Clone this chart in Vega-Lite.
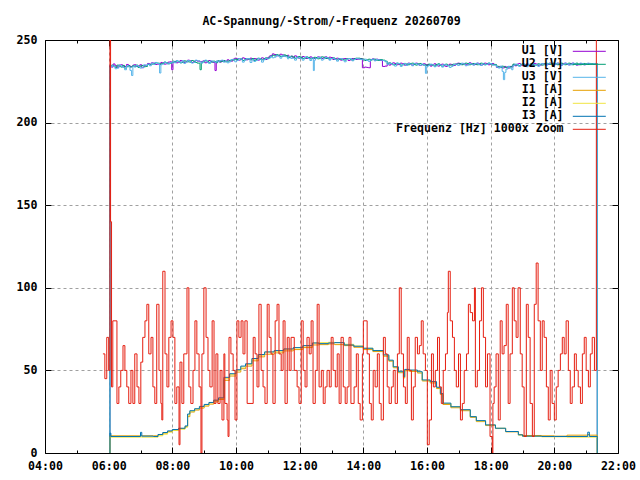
{
  "$schema": "https://vega.github.io/schema/vega-lite/v6.json",
  "width": 573,
  "height": 413,
  "autosize": {"type": "none"},
  "padding": {"left": 45, "top": 40, "right": 22, "bottom": 27},
  "background": "white",
  "title": {
    "text": "AC-Spannung/-Strom/-Frequenz 20260709",
    "font": "DejaVu Sans Mono",
    "fontSize": 11.6,
    "fontWeight": "bold",
    "color": "black",
    "offset": 6
  },
  "datasets": {
    "u": [
      {"t": 6.03, "U1": 0, "U2": 0, "U3": 0},
      {"t": 6.04, "U1": 234.5, "U2": 234.0, "U3": 233.5},
      {"t": 6.09, "U1": 233.6, "U2": 234.8, "U3": 234.6},
      {"t": 6.14, "U1": 235.5, "U2": 234.2, "U3": 234.0},
      {"t": 6.20, "U1": 234.4, "U2": 233.4, "U3": 232.6},
      {"t": 6.26, "U1": 233.5, "U2": 234.8, "U3": 233.0},
      {"t": 6.32, "U1": 234.8, "U2": 234.2, "U3": 234.8},
      {"t": 6.38, "U1": 235.0, "U2": 233.6, "U3": 234.2},
      {"t": 6.44, "U1": 234.2, "U2": 234.6, "U3": 233.4},
      {"t": 6.50, "U1": 234.0, "U2": 233.0, "U3": 232.0},
      {"t": 6.56, "U1": 235.2, "U2": 233.8, "U3": 234.4},
      {"t": 6.62, "U1": 234.6, "U2": 234.4, "U3": 233.8},
      {"t": 6.67, "U1": 233.8, "U2": 233.6, "U3": 231.6},
      {"t": 6.72, "U1": 234.0, "U2": 233.8, "U3": 228.5},
      {"t": 6.76, "U1": 234.8, "U2": 234.6, "U3": 234.2},
      {"t": 6.80, "U1": 235.0, "U2": 234.0, "U3": 233.6},
      {"t": 6.86, "U1": 234.0, "U2": 234.8, "U3": 234.6},
      {"t": 6.92, "U1": 234.2, "U2": 233.4, "U3": 234.0},
      {"t": 6.98, "U1": 235.0, "U2": 234.2, "U3": 233.0},
      {"t": 7.04, "U1": 233.2, "U2": 234.6, "U3": 233.4},
      {"t": 7.10, "U1": 234.4, "U2": 233.8, "U3": 235.0},
      {"t": 7.16, "U1": 234.8, "U2": 234.0, "U3": 234.6},
      {"t": 7.22, "U1": 235.8, "U2": 235.2, "U3": 235.4},
      {"t": 7.28, "U1": 235.4, "U2": 235.0, "U3": 234.4},
      {"t": 7.34, "U1": 236.2, "U2": 235.4, "U3": 236.0},
      {"t": 7.40, "U1": 236.0, "U2": 235.6, "U3": 235.2},
      {"t": 7.46, "U1": 235.2, "U2": 236.2, "U3": 236.4},
      {"t": 7.52, "U1": 235.4, "U2": 236.0, "U3": 235.8},
      {"t": 7.60, "U1": 235.8, "U2": 235.2, "U3": 230.0},
      {"t": 7.64, "U1": 236.4, "U2": 235.6, "U3": 235.0},
      {"t": 7.68, "U1": 236.2, "U2": 235.8, "U3": 235.4},
      {"t": 7.74, "U1": 235.4, "U2": 236.6, "U3": 236.6},
      {"t": 7.80, "U1": 235.6, "U2": 236.2, "U3": 236.0},
      {"t": 7.86, "U1": 236.6, "U2": 235.6, "U3": 235.6},
      {"t": 7.92, "U1": 236.8, "U2": 236.0, "U3": 236.4},
      {"t": 7.98, "U1": 232.0, "U2": 236.4, "U3": 236.0},
      {"t": 8.02, "U1": 236.6, "U2": 237.2, "U3": 237.0},
      {"t": 8.06, "U1": 237.0, "U2": 236.6, "U3": 236.2},
      {"t": 8.12, "U1": 236.2, "U2": 237.4, "U3": 237.6},
      {"t": 8.18, "U1": 236.6, "U2": 237.0, "U3": 236.8},
      {"t": 8.24, "U1": 237.6, "U2": 236.2, "U3": 236.2},
      {"t": 8.30, "U1": 237.2, "U2": 236.4, "U3": 237.4},
      {"t": 8.36, "U1": 236.4, "U2": 237.4, "U3": 235.8},
      {"t": 8.42, "U1": 236.8, "U2": 237.2, "U3": 236.6},
      {"t": 8.48, "U1": 237.8, "U2": 236.8, "U3": 237.6},
      {"t": 8.54, "U1": 237.4, "U2": 236.6, "U3": 237.0},
      {"t": 8.60, "U1": 236.4, "U2": 237.6, "U3": 236.0},
      {"t": 8.66, "U1": 236.8, "U2": 237.2, "U3": 236.4},
      {"t": 8.72, "U1": 237.6, "U2": 236.4, "U3": 237.8},
      {"t": 8.78, "U1": 237.2, "U2": 236.0, "U3": 237.4},
      {"t": 8.87, "U1": 236.8, "U2": 232.0, "U3": 236.8},
      {"t": 8.91, "U1": 237.0, "U2": 236.4, "U3": 236.0},
      {"t": 8.96, "U1": 237.4, "U2": 236.8, "U3": 237.2},
      {"t": 9.02, "U1": 236.2, "U2": 237.6, "U3": 237.8},
      {"t": 9.08, "U1": 236.6, "U2": 237.2, "U3": 236.6},
      {"t": 9.14, "U1": 237.6, "U2": 236.2, "U3": 235.8},
      {"t": 9.20, "U1": 237.0, "U2": 236.6, "U3": 237.4},
      {"t": 9.27, "U1": 236.4, "U2": 237.2, "U3": 236.8},
      {"t": 9.34, "U1": 231.5, "U2": 236.8, "U3": 236.4},
      {"t": 9.38, "U1": 236.8, "U2": 236.2, "U3": 237.4},
      {"t": 9.42, "U1": 237.2, "U2": 237.4, "U3": 236.8},
      {"t": 9.48, "U1": 236.6, "U2": 236.8, "U3": 237.6},
      {"t": 9.54, "U1": 237.6, "U2": 237.0, "U3": 237.8},
      {"t": 9.60, "U1": 237.0, "U2": 237.6, "U3": 236.6},
      {"t": 9.66, "U1": 237.2, "U2": 236.8, "U3": 237.2},
      {"t": 9.72, "U1": 238.0, "U2": 237.2, "U3": 236.2},
      {"t": 9.78, "U1": 237.6, "U2": 237.4, "U3": 236.8},
      {"t": 9.84, "U1": 237.2, "U2": 238.0, "U3": 238.2},
      {"t": 9.90, "U1": 238.4, "U2": 237.8, "U3": 238.0},
      {"t": 9.96, "U1": 239.0, "U2": 238.4, "U3": 236.8},
      {"t": 10.02, "U1": 238.6, "U2": 238.2, "U3": 237.6},
      {"t": 10.08, "U1": 237.8, "U2": 238.8, "U3": 238.8},
      {"t": 10.14, "U1": 238.2, "U2": 238.6, "U3": 238.4},
      {"t": 10.20, "U1": 239.2, "U2": 237.6, "U3": 236.6},
      {"t": 10.26, "U1": 238.8, "U2": 238.0, "U3": 237.8},
      {"t": 10.32, "U1": 238.0, "U2": 238.8, "U3": 238.8},
      {"t": 10.38, "U1": 238.4, "U2": 238.4, "U3": 238.6},
      {"t": 10.44, "U1": 239.0, "U2": 238.0, "U3": 236.4},
      {"t": 10.50, "U1": 238.0, "U2": 238.8, "U3": 238.2},
      {"t": 10.56, "U1": 238.8, "U2": 237.6, "U3": 237.0},
      {"t": 10.62, "U1": 238.6, "U2": 238.2, "U3": 237.6},
      {"t": 10.68, "U1": 237.8, "U2": 239.0, "U3": 238.8},
      {"t": 10.74, "U1": 238.2, "U2": 238.6, "U3": 238.4},
      {"t": 10.80, "U1": 239.2, "U2": 238.0, "U3": 236.6},
      {"t": 10.86, "U1": 238.8, "U2": 238.4, "U3": 238.0},
      {"t": 10.92, "U1": 238.2, "U2": 239.2, "U3": 239.0},
      {"t": 10.98, "U1": 239.2, "U2": 238.8, "U3": 238.6},
      {"t": 11.04, "U1": 240.2, "U2": 239.6, "U3": 239.0},
      {"t": 11.08, "U1": 240.6, "U2": 239.8, "U3": 240.2},
      {"t": 11.14, "U1": 241.6, "U2": 240.8, "U3": 239.2},
      {"t": 11.20, "U1": 241.2, "U2": 240.4, "U3": 239.6},
      {"t": 11.26, "U1": 240.4, "U2": 241.2, "U3": 240.8},
      {"t": 11.32, "U1": 240.6, "U2": 240.8, "U3": 240.2},
      {"t": 11.38, "U1": 241.4, "U2": 240.0, "U3": 239.0},
      {"t": 11.44, "U1": 241.0, "U2": 240.2, "U3": 240.6},
      {"t": 11.50, "U1": 240.2, "U2": 241.0, "U3": 240.0},
      {"t": 11.56, "U1": 240.4, "U2": 240.6, "U3": 239.8},
      {"t": 11.62, "U1": 240.8, "U2": 239.6, "U3": 238.6},
      {"t": 11.66, "U1": 239.8, "U2": 239.4, "U3": 240.0},
      {"t": 11.72, "U1": 240.2, "U2": 240.2, "U3": 238.8},
      {"t": 11.78, "U1": 239.4, "U2": 239.8, "U3": 239.0},
      {"t": 11.84, "U1": 240.4, "U2": 239.0, "U3": 237.8},
      {"t": 11.90, "U1": 239.8, "U2": 239.2, "U3": 239.6},
      {"t": 11.96, "U1": 239.0, "U2": 240.0, "U3": 239.2},
      {"t": 12.02, "U1": 239.2, "U2": 239.6, "U3": 238.8},
      {"t": 12.08, "U1": 240.0, "U2": 238.8, "U3": 237.8},
      {"t": 12.14, "U1": 239.6, "U2": 239.0, "U3": 239.4},
      {"t": 12.20, "U1": 238.8, "U2": 239.8, "U3": 239.8},
      {"t": 12.26, "U1": 239.0, "U2": 239.4, "U3": 238.8},
      {"t": 12.32, "U1": 239.8, "U2": 238.6, "U3": 237.6},
      {"t": 12.38, "U1": 239.4, "U2": 238.8, "U3": 239.2},
      {"t": 12.43, "U1": 239.2, "U2": 239.0, "U3": 231.5},
      {"t": 12.46, "U1": 238.8, "U2": 239.6, "U3": 237.8},
      {"t": 12.50, "U1": 239.0, "U2": 239.4, "U3": 238.8},
      {"t": 12.56, "U1": 239.8, "U2": 238.6, "U3": 239.6},
      {"t": 12.62, "U1": 239.6, "U2": 239.0, "U3": 239.4},
      {"t": 12.68, "U1": 238.8, "U2": 239.8, "U3": 237.8},
      {"t": 12.74, "U1": 239.2, "U2": 239.6, "U3": 238.6},
      {"t": 12.80, "U1": 239.8, "U2": 238.8, "U3": 239.4},
      {"t": 12.86, "U1": 238.8, "U2": 239.2, "U3": 239.2},
      {"t": 12.92, "U1": 239.6, "U2": 238.4, "U3": 237.8},
      {"t": 12.98, "U1": 239.4, "U2": 238.8, "U3": 238.8},
      {"t": 13.04, "U1": 238.2, "U2": 239.2, "U3": 239.0},
      {"t": 13.10, "U1": 238.6, "U2": 238.4, "U3": 238.2},
      {"t": 13.16, "U1": 239.0, "U2": 238.0, "U3": 237.2},
      {"t": 13.22, "U1": 238.2, "U2": 238.8, "U3": 238.6},
      {"t": 13.28, "U1": 237.8, "U2": 238.4, "U3": 238.8},
      {"t": 13.34, "U1": 238.6, "U2": 238.2, "U3": 237.8},
      {"t": 13.40, "U1": 238.8, "U2": 237.8, "U3": 236.8},
      {"t": 13.46, "U1": 238.4, "U2": 238.6, "U3": 238.2},
      {"t": 13.52, "U1": 237.6, "U2": 238.8, "U3": 238.8},
      {"t": 13.58, "U1": 238.0, "U2": 238.4, "U3": 238.6},
      {"t": 13.64, "U1": 238.8, "U2": 237.8, "U3": 237.4},
      {"t": 13.70, "U1": 238.8, "U2": 238.6, "U3": 238.2},
      {"t": 13.76, "U1": 238.2, "U2": 239.0, "U3": 238.8},
      {"t": 13.82, "U1": 238.4, "U2": 239.0, "U3": 238.6},
      {"t": 13.90, "U1": 238.8, "U2": 238.6, "U3": 238.2},
      {"t": 13.97, "U1": 233.2, "U2": 238.4, "U3": 238.0},
      {"t": 14.04, "U1": 233.6, "U2": 237.6, "U3": 238.4},
      {"t": 14.10, "U1": 233.4, "U2": 238.0, "U3": 237.6},
      {"t": 14.16, "U1": 233.2, "U2": 238.4, "U3": 237.0},
      {"t": 14.22, "U1": 238.2, "U2": 237.8, "U3": 238.0},
      {"t": 14.28, "U1": 238.6, "U2": 238.2, "U3": 238.4},
      {"t": 14.34, "U1": 237.8, "U2": 238.4, "U3": 237.4},
      {"t": 14.40, "U1": 238.4, "U2": 237.8, "U3": 238.2},
      {"t": 14.46, "U1": 238.2, "U2": 237.6, "U3": 238.0},
      {"t": 14.52, "U1": 237.6, "U2": 238.2, "U3": 237.8},
      {"t": 14.60, "U1": 234.0, "U2": 237.8, "U3": 237.6},
      {"t": 14.68, "U1": 234.2, "U2": 237.2, "U3": 236.8},
      {"t": 14.75, "U1": 236.0, "U2": 235.6, "U3": 235.2},
      {"t": 14.80, "U1": 234.8, "U2": 236.2, "U3": 236.0},
      {"t": 14.86, "U1": 235.4, "U2": 235.8, "U3": 235.6},
      {"t": 14.92, "U1": 236.2, "U2": 235.0, "U3": 235.0},
      {"t": 14.98, "U1": 235.8, "U2": 235.2, "U3": 234.2},
      {"t": 15.04, "U1": 235.0, "U2": 236.0, "U3": 236.0},
      {"t": 15.10, "U1": 235.2, "U2": 235.6, "U3": 235.8},
      {"t": 15.16, "U1": 236.0, "U2": 234.8, "U3": 234.0},
      {"t": 15.22, "U1": 235.6, "U2": 235.0, "U3": 235.2},
      {"t": 15.28, "U1": 234.8, "U2": 235.8, "U3": 235.8},
      {"t": 15.34, "U1": 235.0, "U2": 235.4, "U3": 234.6},
      {"t": 15.40, "U1": 236.0, "U2": 235.0, "U3": 235.8},
      {"t": 15.46, "U1": 235.4, "U2": 235.8, "U3": 235.4},
      {"t": 15.52, "U1": 234.8, "U2": 236.0, "U3": 234.4},
      {"t": 15.58, "U1": 235.8, "U2": 235.2, "U3": 235.8},
      {"t": 15.64, "U1": 236.0, "U2": 234.8, "U3": 235.6},
      {"t": 15.70, "U1": 235.2, "U2": 235.6, "U3": 235.0},
      {"t": 15.76, "U1": 234.6, "U2": 235.8, "U3": 234.6},
      {"t": 15.82, "U1": 235.0, "U2": 235.2, "U3": 235.4},
      {"t": 15.88, "U1": 235.6, "U2": 234.8, "U3": 234.8},
      {"t": 15.95, "U1": 234.6, "U2": 235.0, "U3": 229.8},
      {"t": 15.99, "U1": 235.2, "U2": 234.6, "U3": 234.0},
      {"t": 16.04, "U1": 234.8, "U2": 235.4, "U3": 234.6},
      {"t": 16.10, "U1": 234.2, "U2": 235.0, "U3": 235.4},
      {"t": 16.16, "U1": 235.2, "U2": 234.8, "U3": 235.0},
      {"t": 16.22, "U1": 235.6, "U2": 234.2, "U3": 233.8},
      {"t": 16.28, "U1": 234.6, "U2": 235.2, "U3": 234.4},
      {"t": 16.34, "U1": 234.2, "U2": 235.6, "U3": 235.2},
      {"t": 16.40, "U1": 235.0, "U2": 234.6, "U3": 234.8},
      {"t": 16.46, "U1": 235.4, "U2": 234.2, "U3": 233.6},
      {"t": 16.52, "U1": 234.4, "U2": 235.0, "U3": 235.2},
      {"t": 16.58, "U1": 234.0, "U2": 235.4, "U3": 234.8},
      {"t": 16.64, "U1": 234.8, "U2": 234.4, "U3": 234.6},
      {"t": 16.70, "U1": 235.4, "U2": 234.8, "U3": 233.4},
      {"t": 16.76, "U1": 235.2, "U2": 234.8, "U3": 234.0},
      {"t": 16.82, "U1": 234.6, "U2": 235.4, "U3": 235.0},
      {"t": 16.90, "U1": 235.6, "U2": 235.2, "U3": 235.4},
      {"t": 16.96, "U1": 236.0, "U2": 235.6, "U3": 234.6},
      {"t": 17.02, "U1": 235.2, "U2": 235.8, "U3": 235.0},
      {"t": 17.08, "U1": 235.4, "U2": 235.0, "U3": 236.0},
      {"t": 17.14, "U1": 235.8, "U2": 235.4, "U3": 235.6},
      {"t": 17.20, "U1": 235.0, "U2": 236.0, "U3": 234.4},
      {"t": 17.26, "U1": 235.4, "U2": 235.8, "U3": 234.8},
      {"t": 17.32, "U1": 236.2, "U2": 235.0, "U3": 235.8},
      {"t": 17.38, "U1": 235.8, "U2": 235.2, "U3": 235.4},
      {"t": 17.44, "U1": 235.0, "U2": 235.8, "U3": 234.8},
      {"t": 17.50, "U1": 235.2, "U2": 235.6, "U3": 235.8},
      {"t": 17.56, "U1": 236.0, "U2": 235.0, "U3": 236.0},
      {"t": 17.62, "U1": 235.6, "U2": 235.2, "U3": 235.0},
      {"t": 17.68, "U1": 234.8, "U2": 236.0, "U3": 234.6},
      {"t": 17.74, "U1": 235.2, "U2": 235.8, "U3": 235.6},
      {"t": 17.80, "U1": 236.0, "U2": 235.0, "U3": 235.0},
      {"t": 17.86, "U1": 235.8, "U2": 235.4, "U3": 235.2},
      {"t": 17.92, "U1": 235.0, "U2": 236.0, "U3": 236.0},
      {"t": 17.98, "U1": 235.4, "U2": 235.6, "U3": 235.8},
      {"t": 18.04, "U1": 235.8, "U2": 235.0, "U3": 234.8},
      {"t": 18.10, "U1": 235.0, "U2": 235.2, "U3": 234.8},
      {"t": 18.18, "U1": 233.4, "U2": 234.2, "U3": 233.6},
      {"t": 18.24, "U1": 234.0, "U2": 233.6, "U3": 233.0},
      {"t": 18.30, "U1": 233.8, "U2": 233.4, "U3": 234.2},
      {"t": 18.36, "U1": 233.0, "U2": 234.2, "U3": 231.0},
      {"t": 18.40, "U1": 233.2, "U2": 234.0, "U3": 226.0},
      {"t": 18.44, "U1": 234.0, "U2": 233.4, "U3": 230.4},
      {"t": 18.48, "U1": 233.6, "U2": 233.2, "U3": 232.4},
      {"t": 18.54, "U1": 233.0, "U2": 234.0, "U3": 234.0},
      {"t": 18.60, "U1": 234.0, "U2": 233.6, "U3": 233.0},
      {"t": 18.66, "U1": 233.6, "U2": 234.2, "U3": 232.0},
      {"t": 18.70, "U1": 235.0, "U2": 235.4, "U3": 234.6},
      {"t": 18.76, "U1": 234.4, "U2": 235.0, "U3": 235.4},
      {"t": 18.82, "U1": 235.4, "U2": 234.8, "U3": 235.0},
      {"t": 18.88, "U1": 235.8, "U2": 234.4, "U3": 234.0},
      {"t": 18.94, "U1": 234.8, "U2": 235.2, "U3": 235.4},
      {"t": 19.00, "U1": 234.4, "U2": 235.6, "U3": 235.0},
      {"t": 19.06, "U1": 235.2, "U2": 234.6, "U3": 234.8},
      {"t": 19.12, "U1": 235.6, "U2": 235.2, "U3": 233.8},
      {"t": 19.18, "U1": 234.6, "U2": 235.0, "U3": 235.2},
      {"t": 19.24, "U1": 234.8, "U2": 235.6, "U3": 235.6},
      {"t": 19.30, "U1": 235.0, "U2": 235.4, "U3": 234.6},
      {"t": 19.36, "U1": 235.8, "U2": 234.8, "U3": 235.2},
      {"t": 19.42, "U1": 235.4, "U2": 234.8, "U3": 235.0},
      {"t": 19.48, "U1": 234.6, "U2": 235.6, "U3": 234.0},
      {"t": 19.54, "U1": 234.8, "U2": 235.2, "U3": 235.4},
      {"t": 19.60, "U1": 235.6, "U2": 234.8, "U3": 235.8},
      {"t": 19.66, "U1": 235.6, "U2": 235.4, "U3": 235.0},
      {"t": 19.72, "U1": 235.0, "U2": 236.0, "U3": 234.6},
      {"t": 19.78, "U1": 235.2, "U2": 235.8, "U3": 235.6},
      {"t": 19.84, "U1": 236.0, "U2": 235.2, "U3": 236.0},
      {"t": 19.90, "U1": 235.8, "U2": 235.4, "U3": 235.2},
      {"t": 19.96, "U1": 235.0, "U2": 236.0, "U3": 234.8},
      {"t": 20.02, "U1": 235.4, "U2": 235.8, "U3": 235.6},
      {"t": 20.08, "U1": 236.0, "U2": 235.0, "U3": 236.0},
      {"t": 20.14, "U1": 235.0, "U2": 235.4, "U3": 235.8},
      {"t": 20.20, "U1": 234.8, "U2": 236.0, "U3": 234.8},
      {"t": 20.26, "U1": 235.6, "U2": 235.2, "U3": 235.2},
      {"t": 20.32, "U1": 236.0, "U2": 235.0, "U3": 236.0},
      {"t": 20.38, "U1": 235.2, "U2": 235.6, "U3": 235.6},
      {"t": 20.44, "U1": 235.0, "U2": 236.0, "U3": 234.8},
      {"t": 20.50, "U1": 235.8, "U2": 235.4, "U3": 235.0},
      {"t": 20.56, "U1": 236.0, "U2": 235.0, "U3": 236.0},
      {"t": 20.62, "U1": 235.4, "U2": 235.8, "U3": 235.6},
      {"t": 20.68, "U1": 234.8, "U2": 236.0, "U3": 235.0},
      {"t": 20.74, "U1": 235.0, "U2": 235.4, "U3": 235.2},
      {"t": 20.80, "U1": 235.8, "U2": 235.0, "U3": 236.0},
      {"t": 20.86, "U1": 235.6, "U2": 235.2, "U3": 235.8},
      {"t": 20.92, "U1": 235.0, "U2": 235.8, "U3": 235.0},
      {"t": 20.98, "U1": 235.2, "U2": 235.6, "U3": 235.4},
      {"t": 21.04, "U1": 235.8, "U2": 235.2, "U3": 236.0},
      {"t": 21.10, "U1": 235.4, "U2": 235.8, "U3": 235.6},
      {"t": 21.16, "U1": 235.2, "U2": 235.6, "U3": 235.2},
      {"t": 21.22, "U1": 235.6, "U2": 235.4, "U3": 235.8},
      {"t": 21.28, "U1": 235.4, "U2": 235.8, "U3": 235.6},
      {"t": 21.35, "U1": 0, "U2": 0, "U3": 0}
    ],
    "i": [
      {"t": 6.03, "I1": 0, "I2": 0, "I3": 0},
      {"t": 6.04, "I1": 10.5, "I2": 9.8, "I3": 12.0},
      {"t": 6.07, "I1": 10.4, "I2": 9.6, "I3": 10.0},
      {"t": 7.00, "I1": 10.4, "I2": 9.8, "I3": 12.5},
      {"t": 7.04, "I1": 10.4, "I2": 9.6, "I3": 10.2},
      {"t": 7.40, "I1": 10.4, "I2": 9.6, "I3": 10.0},
      {"t": 7.55, "I1": 11.0, "I2": 10.4, "I3": 11.2},
      {"t": 7.70, "I1": 12.0, "I2": 11.4, "I3": 12.4},
      {"t": 7.85, "I1": 13.0, "I2": 12.6, "I3": 13.4},
      {"t": 8.00, "I1": 14.0, "I2": 13.6, "I3": 14.2},
      {"t": 8.20, "I1": 14.8, "I2": 14.4, "I3": 15.0},
      {"t": 8.40, "I1": 16.0, "I2": 15.6, "I3": 16.4},
      {"t": 8.48, "I1": 22.0, "I2": 23.0, "I3": 23.6},
      {"t": 8.55, "I1": 24.8, "I2": 25.2, "I3": 25.6},
      {"t": 8.70, "I1": 26.0, "I2": 26.6, "I3": 26.8},
      {"t": 8.85, "I1": 27.2, "I2": 27.8, "I3": 28.2},
      {"t": 9.00, "I1": 28.4, "I2": 29.0, "I3": 29.4},
      {"t": 9.15, "I1": 29.6, "I2": 30.4, "I3": 30.6},
      {"t": 9.30, "I1": 31.0, "I2": 31.8, "I3": 32.0},
      {"t": 9.45, "I1": 32.4, "I2": 33.0, "I3": 33.4},
      {"t": 9.62, "I1": 44.0, "I2": 45.0, "I3": 45.8},
      {"t": 9.80, "I1": 46.6, "I2": 47.6, "I3": 48.0},
      {"t": 10.00, "I1": 49.0, "I2": 50.0, "I3": 50.4},
      {"t": 10.15, "I1": 51.0, "I2": 52.0, "I3": 52.6},
      {"t": 10.30, "I1": 52.6, "I2": 53.6, "I3": 54.0},
      {"t": 10.50, "I1": 55.8, "I2": 56.8, "I3": 57.2},
      {"t": 10.70, "I1": 58.2, "I2": 59.2, "I3": 59.6},
      {"t": 10.90, "I1": 59.8, "I2": 61.0, "I3": 61.2},
      {"t": 11.20, "I1": 60.6, "I2": 61.6, "I3": 62.0},
      {"t": 11.50, "I1": 61.8, "I2": 62.8, "I3": 63.0},
      {"t": 11.80, "I1": 62.6, "I2": 63.6, "I3": 63.8},
      {"t": 12.10, "I1": 63.8, "I2": 64.8, "I3": 65.0},
      {"t": 12.40, "I1": 65.4, "I2": 66.6, "I3": 66.6},
      {"t": 12.60, "I1": 65.6, "I2": 66.8, "I3": 66.2},
      {"t": 12.90, "I1": 66.0, "I2": 67.0, "I3": 66.6},
      {"t": 13.10, "I1": 65.6, "I2": 66.8, "I3": 66.8},
      {"t": 13.40, "I1": 65.0, "I2": 65.8, "I3": 65.4},
      {"t": 13.70, "I1": 64.0, "I2": 64.8, "I3": 64.6},
      {"t": 14.00, "I1": 62.6, "I2": 63.4, "I3": 63.4},
      {"t": 14.30, "I1": 61.4, "I2": 62.0, "I3": 62.0},
      {"t": 14.63, "I1": 58.6, "I2": 59.2, "I3": 59.4},
      {"t": 14.80, "I1": 55.6, "I2": 56.0, "I3": 56.2},
      {"t": 14.94, "I1": 51.6, "I2": 52.0, "I3": 52.2},
      {"t": 15.10, "I1": 48.6, "I2": 49.0, "I3": 49.2},
      {"t": 15.26, "I1": 45.4, "I2": 46.0, "I3": 46.2},
      {"t": 15.30, "I1": 49.8, "I2": 50.4, "I3": 50.6},
      {"t": 15.45, "I1": 49.4, "I2": 50.0, "I3": 50.2},
      {"t": 15.70, "I1": 48.4, "I2": 49.0, "I3": 49.2},
      {"t": 15.85, "I1": 43.6, "I2": 44.0, "I3": 44.2},
      {"t": 16.10, "I1": 42.4, "I2": 43.0, "I3": 43.2},
      {"t": 16.30, "I1": 39.0, "I2": 39.6, "I3": 39.8},
      {"t": 16.42, "I1": 35.4, "I2": 36.0, "I3": 36.0},
      {"t": 16.50, "I1": 29.4, "I2": 30.0, "I3": 30.2},
      {"t": 16.75, "I1": 27.4, "I2": 28.0, "I3": 28.0},
      {"t": 17.05, "I1": 25.6, "I2": 26.2, "I3": 26.2},
      {"t": 17.36, "I1": 21.6, "I2": 22.0, "I3": 22.0},
      {"t": 17.55, "I1": 19.0, "I2": 19.4, "I3": 19.6},
      {"t": 17.84, "I1": 16.6, "I2": 17.0, "I3": 17.0},
      {"t": 18.15, "I1": 14.8, "I2": 15.0, "I3": 15.0},
      {"t": 18.47, "I1": 12.8, "I2": 13.0, "I3": 13.0},
      {"t": 18.87, "I1": 11.2, "I2": 10.8, "I3": 11.0},
      {"t": 19.00, "I1": 10.6, "I2": 10.0, "I3": 10.2},
      {"t": 19.60, "I1": 10.4, "I2": 9.8, "I3": 10.0},
      {"t": 20.00, "I1": 10.2, "I2": 9.8, "I3": 10.0},
      {"t": 20.40, "I1": 10.8, "I2": 9.6, "I3": 10.0},
      {"t": 21.05, "I1": 11.2, "I2": 9.6, "I3": 12.6},
      {"t": 21.10, "I1": 10.8, "I2": 9.6, "I3": 10.0},
      {"t": 21.35, "I1": 0, "I2": 0, "I3": 0}
    ],
    "f": [
      {"t": 5.82, "F": 60}, {"t": 5.88, "F": 45}, {"t": 5.94, "F": 70}, {"t": 6.00, "F": 50},
      {"t": 6.04, "F": 300}, {"t": 6.06, "F": 140}, {"t": 6.09, "F": 40}, {"t": 6.13, "F": 80},
      {"t": 6.26, "F": 30}, {"t": 6.32, "F": 40}, {"t": 6.38, "F": 50}, {"t": 6.45, "F": 65},
      {"t": 6.51, "F": 50}, {"t": 6.57, "F": 40}, {"t": 6.63, "F": 30}, {"t": 6.70, "F": 50},
      {"t": 6.76, "F": 30}, {"t": 6.82, "F": 60}, {"t": 6.89, "F": 40}, {"t": 6.95, "F": 30},
      {"t": 7.01, "F": 55}, {"t": 7.07, "F": 70}, {"t": 7.14, "F": 80}, {"t": 7.20, "F": 90},
      {"t": 7.26, "F": 60}, {"t": 7.33, "F": 70}, {"t": 7.39, "F": 40}, {"t": 7.45, "F": 30},
      {"t": 7.51, "F": 90}, {"t": 7.58, "F": 50}, {"t": 7.64, "F": 30}, {"t": 7.67, "F": 20},
      {"t": 7.70, "F": 110}, {"t": 7.77, "F": 60}, {"t": 7.83, "F": 40}, {"t": 7.89, "F": 70},
      {"t": 7.96, "F": 80}, {"t": 8.02, "F": 70}, {"t": 8.08, "F": 30}, {"t": 8.14, "F": 40},
      {"t": 8.21, "F": 5}, {"t": 8.24, "F": 55}, {"t": 8.30, "F": 30}, {"t": 8.36, "F": 60},
      {"t": 8.46, "F": 100}, {"t": 8.52, "F": 40}, {"t": 8.58, "F": 30}, {"t": 8.65, "F": 50},
      {"t": 8.71, "F": 80}, {"t": 8.77, "F": 60}, {"t": 8.84, "F": 40}, {"t": 8.90, "F": 0},
      {"t": 8.93, "F": 60}, {"t": 8.99, "F": 100}, {"t": 9.06, "F": 70}, {"t": 9.12, "F": 50},
      {"t": 9.18, "F": 40}, {"t": 9.25, "F": 80}, {"t": 9.31, "F": 30}, {"t": 9.37, "F": 60},
      {"t": 9.43, "F": 30}, {"t": 9.50, "F": 50}, {"t": 9.56, "F": 20}, {"t": 9.62, "F": 60},
      {"t": 9.65, "F": 30}, {"t": 9.72, "F": 20}, {"t": 9.75, "F": 10}, {"t": 9.78, "F": 70},
      {"t": 9.84, "F": 60}, {"t": 9.91, "F": 50}, {"t": 9.97, "F": 20}, {"t": 10.03, "F": 80},
      {"t": 10.09, "F": 70}, {"t": 10.16, "F": 80}, {"t": 10.22, "F": 60}, {"t": 10.28, "F": 80},
      {"t": 10.35, "F": 30}, {"t": 10.54, "F": 70}, {"t": 10.60, "F": 60}, {"t": 10.66, "F": 40},
      {"t": 10.72, "F": 90}, {"t": 10.79, "F": 50}, {"t": 10.85, "F": 40}, {"t": 10.91, "F": 30},
      {"t": 10.98, "F": 90}, {"t": 11.04, "F": 70}, {"t": 11.10, "F": 60}, {"t": 11.16, "F": 30},
      {"t": 11.23, "F": 80}, {"t": 11.29, "F": 90}, {"t": 11.35, "F": 60}, {"t": 11.42, "F": 50},
      {"t": 11.48, "F": 80}, {"t": 11.54, "F": 30}, {"t": 11.61, "F": 70}, {"t": 11.67, "F": 50},
      {"t": 11.73, "F": 70}, {"t": 11.83, "F": 50}, {"t": 11.92, "F": 40}, {"t": 11.98, "F": 30},
      {"t": 12.05, "F": 80}, {"t": 12.11, "F": 50}, {"t": 12.17, "F": 40}, {"t": 12.23, "F": 70},
      {"t": 12.30, "F": 60}, {"t": 12.36, "F": 80}, {"t": 12.42, "F": 30}, {"t": 12.49, "F": 50},
      {"t": 12.55, "F": 90}, {"t": 12.61, "F": 40}, {"t": 12.68, "F": 50}, {"t": 12.74, "F": 30},
      {"t": 12.80, "F": 40}, {"t": 12.86, "F": 50}, {"t": 12.93, "F": 40}, {"t": 12.99, "F": 70},
      {"t": 13.05, "F": 50}, {"t": 13.12, "F": 40}, {"t": 13.18, "F": 60}, {"t": 13.24, "F": 30},
      {"t": 13.30, "F": 70}, {"t": 13.37, "F": 40}, {"t": 13.43, "F": 30}, {"t": 13.49, "F": 40},
      {"t": 13.55, "F": 70}, {"t": 13.61, "F": 30}, {"t": 13.71, "F": 40}, {"t": 13.78, "F": 60},
      {"t": 13.84, "F": 30}, {"t": 13.90, "F": 20}, {"t": 13.97, "F": 60}, {"t": 14.00, "F": 80},
      {"t": 14.12, "F": 60}, {"t": 14.19, "F": 30}, {"t": 14.25, "F": 20}, {"t": 14.31, "F": 50},
      {"t": 14.37, "F": 40}, {"t": 14.44, "F": 60}, {"t": 14.50, "F": 30}, {"t": 14.56, "F": 20},
      {"t": 14.63, "F": 70}, {"t": 14.69, "F": 60}, {"t": 14.75, "F": 40}, {"t": 14.81, "F": 30},
      {"t": 14.88, "F": 40}, {"t": 14.94, "F": 50}, {"t": 15.00, "F": 30}, {"t": 15.07, "F": 60},
      {"t": 15.13, "F": 100}, {"t": 15.19, "F": 60}, {"t": 15.26, "F": 40}, {"t": 15.32, "F": 30},
      {"t": 15.38, "F": 70}, {"t": 15.44, "F": 50}, {"t": 15.51, "F": 20}, {"t": 15.57, "F": 40},
      {"t": 15.63, "F": 70}, {"t": 15.70, "F": 60}, {"t": 15.76, "F": 65}, {"t": 15.82, "F": 80},
      {"t": 15.88, "F": 60}, {"t": 15.95, "F": 50}, {"t": 16.01, "F": 5}, {"t": 16.07, "F": 20},
      {"t": 16.14, "F": 60}, {"t": 16.20, "F": 40}, {"t": 16.26, "F": 50}, {"t": 16.33, "F": 70},
      {"t": 16.39, "F": 40}, {"t": 16.45, "F": 30}, {"t": 16.51, "F": 50}, {"t": 16.58, "F": 60},
      {"t": 16.64, "F": 85}, {"t": 16.67, "F": 110}, {"t": 16.73, "F": 80}, {"t": 16.80, "F": 70},
      {"t": 16.86, "F": 50}, {"t": 16.92, "F": 40}, {"t": 16.99, "F": 60}, {"t": 17.05, "F": 20},
      {"t": 17.11, "F": 30}, {"t": 17.17, "F": 50}, {"t": 17.24, "F": 60}, {"t": 17.30, "F": 90},
      {"t": 17.36, "F": 85}, {"t": 17.43, "F": 80}, {"t": 17.49, "F": 100}, {"t": 17.52, "F": 40},
      {"t": 17.58, "F": 50}, {"t": 17.65, "F": 80}, {"t": 17.71, "F": 100}, {"t": 17.77, "F": 70},
      {"t": 17.84, "F": 40}, {"t": 17.90, "F": 60}, {"t": 17.98, "F": 10}, {"t": 18.05, "F": 0},
      {"t": 18.07, "F": 30}, {"t": 18.11, "F": 40}, {"t": 18.17, "F": 60}, {"t": 18.24, "F": 20},
      {"t": 18.30, "F": 80}, {"t": 18.36, "F": 60}, {"t": 18.42, "F": 65}, {"t": 18.49, "F": 90},
      {"t": 18.55, "F": 30}, {"t": 18.61, "F": 60}, {"t": 18.68, "F": 100}, {"t": 18.74, "F": 80},
      {"t": 18.80, "F": 70}, {"t": 18.86, "F": 100}, {"t": 18.93, "F": 60}, {"t": 18.99, "F": 40},
      {"t": 19.05, "F": 10}, {"t": 19.12, "F": 90}, {"t": 19.18, "F": 70}, {"t": 19.24, "F": 30},
      {"t": 19.31, "F": 10}, {"t": 19.37, "F": 90}, {"t": 19.43, "F": 115}, {"t": 19.49, "F": 80},
      {"t": 19.56, "F": 50}, {"t": 19.62, "F": 80}, {"t": 19.68, "F": 70}, {"t": 19.75, "F": 40},
      {"t": 19.81, "F": 20}, {"t": 19.87, "F": 50}, {"t": 19.93, "F": 30}, {"t": 20.00, "F": 20},
      {"t": 20.06, "F": 40}, {"t": 20.12, "F": 50}, {"t": 20.19, "F": 60}, {"t": 20.25, "F": 70},
      {"t": 20.31, "F": 60}, {"t": 20.37, "F": 80}, {"t": 20.44, "F": 50}, {"t": 20.50, "F": 30},
      {"t": 20.56, "F": 40}, {"t": 20.63, "F": 60}, {"t": 20.69, "F": 50}, {"t": 20.75, "F": 40},
      {"t": 20.82, "F": 30}, {"t": 20.88, "F": 60}, {"t": 20.94, "F": 70}, {"t": 21.00, "F": 50},
      {"t": 21.07, "F": 40}, {"t": 21.13, "F": 60}, {"t": 21.19, "F": 70}, {"t": 21.26, "F": 50},
      {"t": 21.32, "F": 300}, {"t": 21.36, "F": 300}
    ]
  },
  "layer": [
    {
      "data": {"name": "u"},
      "transform": [{"fold": ["U1", "U2", "U3"], "as": ["s", "v"]}],
      "mark": {"type": "line", "interpolate": "step-after", "strokeWidth": 1, "clip": true},
      "encoding": {
        "x": {
          "field": "t", "type": "quantitative",
          "scale": {"domain": [4, 22], "nice": false, "zero": false},
          "axis": {
            "orient": "bottom", "title": null, "grid": true,
            "values": [4, 5, 6, 7, 8, 9, 10, 11, 12, 13, 14, 15, 16, 17, 18, 19, 20, 21, 22],
            "labelExpr": "datum.value % 2 == 1 ? '' : (datum.value < 10 ? '0' : '') + datum.value + ':00'",
            "tickSize": {"condition": {"test": "datum.value % 2 == 1", "value": -3}, "value": -6},
            "gridOpacity": {"condition": {"test": "datum.value % 2 == 1 || datum.value == 4 || datum.value == 22", "value": 0}, "value": 1},
            "labelPadding": 13
          }
        },
        "y": {
          "field": "v", "type": "quantitative",
          "scale": {"domain": [0, 250], "nice": false},
          "axis": {
            "orient": "left", "title": null, "grid": true,
            "values": [0, 50, 100, 150, 200, 250],
            "tickSize": -6,
            "gridOpacity": {"condition": {"test": "datum.value == 0 || datum.value == 250", "value": 0}, "value": 1},
            "labelPadding": 14
          }
        },
        "color": {
          "field": "s", "type": "nominal",
          "scale": {
            "domain": ["U1", "U2", "U3", "I1", "I2", "I3", "F"],
            "range": ["#9400d3", "#009e73", "#56b4e9", "#e69f00", "#f0e442", "#0072b2", "#e51e10"]
          },
          "legend": {
            "orient": "none", "legendX": 351, "legendY": 5.5,
            "title": null, "padding": 0, "columns": 1, "direction": "vertical",
            "symbolType": "M-3.3,0H3.3", "symbolSize": 100, "symbolStrokeWidth": 1,
            "labelFont": "DejaVu Sans Mono", "labelFontSize": 11.6, "labelFontWeight": "bold", "labelColor": "black",
            "labelExpr": "datum.label == 'F' ? 'Frequenz [Hz] 1000x Zoom' : datum.label + (indexof(datum.label, 'U') == 0 ? ' [V]' : ' [A]')",
            "labelAlign": "right",
            "labelOffset": -31.5, "symbolOffset": 187.5, "rowPadding": 0, "labelLimit": 400
          }
        }
      }
    },
    {
      "data": {"name": "i"},
      "transform": [{"fold": ["I1", "I2", "I3"], "as": ["s", "v"]}],
      "mark": {"type": "line", "interpolate": "step-after", "strokeWidth": 1, "clip": true},
      "encoding": {
        "x": {"field": "t", "type": "quantitative", "axis": null},
        "y": {"field": "v", "type": "quantitative", "axis": null},
        "color": {"field": "s", "type": "nominal"}
      }
    },
    {
      "data": {"name": "f"},
      "transform": [{"fold": ["F"], "as": ["s", "v"]}],
      "mark": {"type": "line", "interpolate": "step-after", "strokeWidth": 1, "clip": true},
      "encoding": {
        "x": {
          "field": "t", "type": "quantitative",
          "axis": {
            "orient": "top", "title": null, "grid": false, "labels": false,
            "values": [4, 5, 6, 7, 8, 9, 10, 11, 12, 13, 14, 15, 16, 17, 18, 19, 20, 21, 22],
            "tickSize": {"condition": {"test": "datum.value % 2 == 1", "value": -3}, "value": -6}
          }
        },
        "y": {
          "field": "v", "type": "quantitative",
          "axis": {
            "orient": "right", "title": null, "grid": false, "labels": false,
            "values": [0, 50, 100, 150, 200, 250],
            "tickSize": -6
          }
        },
        "color": {"field": "s", "type": "nominal"}
      }
    }
  ],
  "resolve": {"axis": {"x": "independent", "y": "independent"}},
  "config": {
    "view": {"stroke": "black", "strokeWidth": 1},
    "axis": {
      "domain": false,
      "labelFont": "DejaVu Sans Mono",
      "labelFontSize": 11.6,
      "labelFontWeight": "bold",
      "labelColor": "black",
      "labelFlush": false,
      "labelOverlap": false,
      "labelBound": false,
      "tickColor": "black",
      "tickWidth": 1,
      "gridColor": "#a0a0a0",
      "gridDash": [3, 3],
      "gridWidth": 1
    }
  }
}
